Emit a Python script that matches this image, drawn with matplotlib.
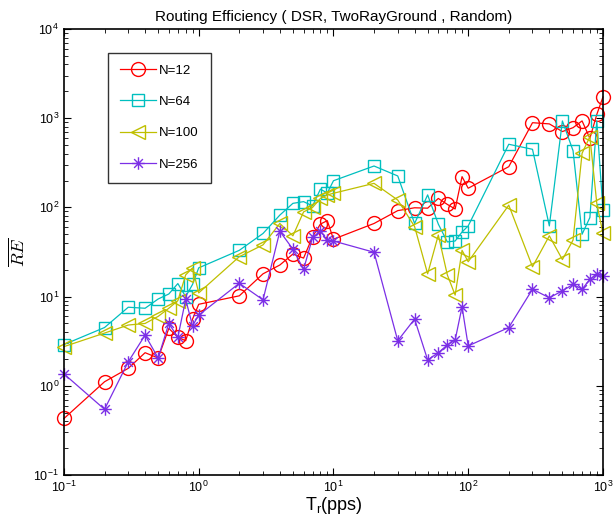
import matplotlib
matplotlib.use("Agg")
import matplotlib.pyplot as plt
from matplotlib.path import Path

plt.rcParams['font.family'] = ['Liberation Sans', 'DejaVu Sans']

# x values (pps)
tr = [0.1, 0.2, 0.3, 0.4, 0.5, 0.6, 0.7, 0.8, 0.9,
      1, 2, 3, 4, 5, 6, 7, 8, 9,
      10, 20, 30, 40, 50, 60, 70, 80, 90,
      100, 200, 300, 400, 500, 600, 700, 800, 900, 1000]

re_n12 = [0.43, 1.11, 1.57, 2.35, 2.05, 4.4, 3.5, 3.2, 5.6,
          8.2, 10.2, 18, 22.6, 30, 27, 47, 65, 71,
          44, 66, 92, 99, 98, 126, 108, 96, 221,
          164, 286, 890, 863, 708, 783, 932, 595, 1100, 1730]

re_n64 = [2.9, 4.5, 7.6, 7.4, 9.4, 10.7, 14, 10, 13.7,
          21, 33, 51, 82, 111, 116, 104, 160, 145,
          199, 291, 225, 66, 138, 65, 41, 42, 53,
          62, 510, 448, 62, 931, 432, 50, 77, 937, 94]

re_n100 = [2.75, 3.9, 4.8, 5.0, 6.0, 7.4, 9, 17.5, 21,
           11, 28, 38, 66, 48, 89, 100, 126, 138,
           144, 186, 121, 61, 18, 49, 17.5, 10.4, 33,
           24.6, 106, 21.6, 48, 26, 43, 404, 621, 111, 51]

re_n256 = [1.36, 0.545, 1.86, 3.7, 2.05, 5.0, 3.5, 9.3, 4.7,
           6.2, 14.1, 9.2, 54, 34, 20.2, 46, 54, 43,
           42, 31.4, 3.2, 5.6, 1.95, 2.35, 2.87, 3.26, 7.7,
           2.8, 4.5, 12.1, 9.7, 11.6, 13.7, 12.1, 15.6, 17.8, 17]

# matlab style asterisk: + and x together
d = 0.7
asterisk = Path([(-1, 0), (1, 0), (0, -1), (0, 1), (-d, -d), (d, d), (-d, d), (d, -d)],
                [Path.MOVETO, Path.LINETO] * 4)

fig = plt.figure(figsize=(6.14, 5.24), dpi=100)
ax = fig.add_axes([0.1042, 0.0935, 0.8778, 0.8512])

ax.loglog(tr, re_n12, '-o', color='red', mfc='none', ms=10, lw=0.9, label='N=12', clip_on=False)
ax.loglog(tr, re_n64, '-s', color='#00bfbf', mfc='none', ms=8.5, lw=0.9, label='N=64', clip_on=False)
ax.loglog(tr, re_n100, '-<', color='#bfbf00', mfc='none', ms=10, lw=0.9, label='N=100', clip_on=False)
ax.loglog(tr, re_n256, '-', marker=asterisk, color='#7b2fe6', mfc='none', ms=9, mew=1.0, lw=0.9,
          label='N=256', clip_on=False)

ax.set_xlim(0.1, 1000)
ax.set_ylim(0.1, 10000)
ax.tick_params(which='both', direction='in', top=True, right=True, labelsize=9)
ax.tick_params(which='major', length=5)
ax.tick_params(which='minor', length=3)
for s in ax.spines.values():
    s.set_linewidth(1.2)

ax.set_title('Routing Efficiency ( DSR, TwoRayGround , Random)', fontsize=11)
ax.set_xlabel('T$_{\\mathregular{r}}$(pps)', fontsize=13, labelpad=0)
ax.set_ylabel(r'$\overline{RE}$', fontsize=13, math_fontfamily='cm', labelpad=4)

leg = ax.legend(loc='upper left', bbox_to_anchor=(0.081, 0.947), borderaxespad=0,
                fancybox=False, edgecolor='black', fontsize=9.5, labelspacing=1.45,
                handlelength=2.8, borderpad=0.9, handletextpad=0.2)
leg.get_frame().set_linewidth(1.0)

plt.savefig('out.png', dpi=100)
